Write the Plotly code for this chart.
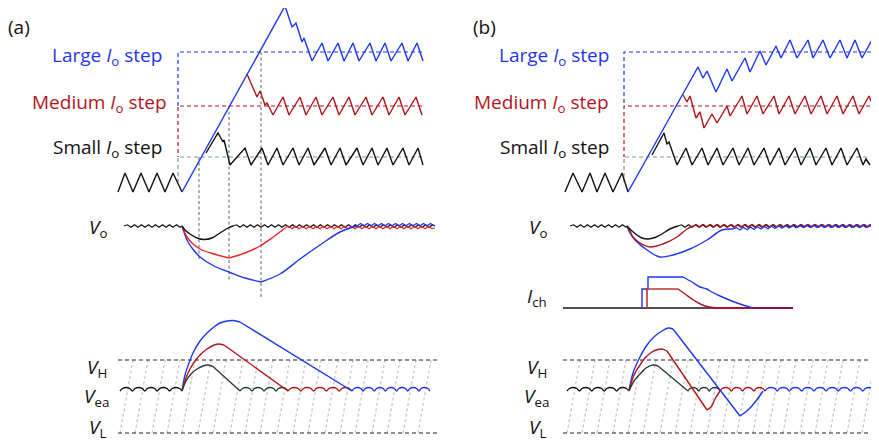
import plotly.graph_objects as go

# ---------------- colours ----------------
BLUE = "#1f35f0"
DRED = "#b3141b"
BRED = "#ee2424"
BLK = "#111111"
SLATE = "#2f3b3b"
GRAYV = "#6f8282"
GRAYS = "#b3c2c2"

# =============== PANEL (a) : inductor current ===============
a_init_x = [118, 125, 133, 141, 149, 157, 165, 173, 182]
a_init_y = [192, 173, 192, 173, 192, 173, 192, 173, 192]

a_blue_x = [182, 285, 292, 296, 302, 304, 312, 322, 328, 338, 344, 353, 359, 370, 376, 385, 391, 402, 408, 417, 423]
a_blue_y = [192, 6, 27, 23, 42, 38, 61, 43, 61, 43, 61, 43, 61, 43, 61, 43, 61, 43, 61, 43, 61]

a_red_x = [247, 257, 260, 265, 267, 273, 283, 289, 300, 306, 316, 322, 333, 339, 349, 355, 366, 372, 383, 389, 399, 405, 416, 422]
a_red_y = [74, 97, 91, 105, 103, 115, 97, 115, 97, 115, 97, 115, 97, 115, 97, 115, 97, 115, 97, 115, 97, 115, 97, 115]

a_blk_x = [206, 218, 223, 224, 230, 245, 251, 262, 268, 277, 283, 293, 299, 308, 314, 325, 331, 340, 346, 357, 363,
           372, 378, 387, 393, 403, 409, 418, 423]
a_blk_y = [153, 133, 142, 140, 165, 148, 165, 148, 165, 148, 165, 148, 165, 148, 165, 148, 165, 148, 165, 148, 165,
           148, 165, 148, 165, 148, 165, 148, 165]

# step-level guides (x, y)
a_guide_blue = ([422, 178, 178], [52, 52, 106])
a_guide_red = ([422, 178, 178], [106, 106, 157])
a_guide_gray = ([422, 178, 178], [157, 157, 182])
a_vlines_x = [199, 229, 261]
a_vlines_top = [157, 106, 52]
a_vlines_bot = [260, 280, 298]

# =============== PANEL (a) : Vo ===============
vo_a_pre_x = [124, 127.5, 131, 134.5, 138, 141.5, 145, 148.5, 152, 155.5, 159, 162.5, 166, 169.5, 173, 176.5, 180, 182]
vo_a_pre_y = [226, 224.8, 227.2, 224.8, 227.2, 224.8, 227.2, 224.8, 227.2, 224.8, 227.2, 224.8, 227.2, 224.8, 227.2, 224.8, 227.2, 226]

vo_a_blk_dip_x = [182, 185, 190, 197, 204, 212, 220, 228, 233]
vo_a_blk_dip_y = [226, 230, 234, 238, 239.5, 238, 233, 228, 226]
vo_a_red_dn_x = [182, 184, 187, 192, 200, 214, 229]
vo_a_red_dn_y = [226, 231, 237, 243, 249, 254, 258]
vo_a_red_up_x = [229, 245, 260, 272, 285]
vo_a_red_up_y = [258, 253, 246, 238, 228]
vo_a_blu_dn_x = [182, 184, 187, 192, 200, 214, 229, 245, 261]
vo_a_blu_dn_y = [226, 232, 240, 248, 257, 266, 272, 278, 282]
vo_a_blu_up_x = [261, 280, 300, 320, 340, 357]
vo_a_blu_up_y = [282, 274, 259, 245, 232, 226]

vo_a_blk_post_x = [233, 236.5, 240, 243.5, 247, 250.5, 254, 257.5, 261, 264.5, 268, 271.5, 275, 278.5, 282, 285.5,
                   289, 292.5, 296, 299.5, 303, 306.5, 310, 313.5, 317, 320.5, 324, 327.5, 331, 334.5, 338, 341.5,
                   345, 348.5, 352, 355.5, 359, 362.5, 366, 369.5, 373, 376.5, 380, 383.5, 387, 390.5, 394, 397.5,
                   401, 404.5, 408, 411.5, 415, 418.5, 422, 425.5, 429, 432.5, 435]
vo_a_blk_post_y = [226, 224.8, 227.2, 224.8, 227.2, 224.8, 227.2, 224.8, 227.2, 224.8, 227.2, 224.8, 227.2, 224.8, 227.2, 224.8,
                   227.2, 224.8, 227.2, 224.8, 227.2, 224.8, 227.2, 224.8, 227.2, 224.8, 227.2, 224.8, 227.2, 224.8, 227.2, 224.8,
                   227.2, 224.8, 227.2, 224.8, 227.2, 224.8, 227.2, 224.8, 227.2, 224.8, 227.2, 224.8, 227.2, 224.8, 227.2, 224.8,
                   227.2, 224.8, 227.2, 224.8, 227.2, 224.8, 227.2, 224.8, 227.2, 224.8, 226]

vo_a_red_post_x = [285, 288.5, 292, 295.5, 299, 302.5, 306, 309.5, 313, 316.5, 320, 323.5, 327, 330.5, 334, 337.5,
                   341, 344.5, 348, 351.5, 355, 358.5, 362, 365.5, 369, 372.5, 376, 379.5, 383, 386.5, 390, 393.5,
                   397, 400.5, 404, 407.5, 411, 414.5, 418, 421.5, 425, 428.5, 432, 435]
vo_a_red_post_y = [228, 226.3, 228.7, 226.3, 228.7, 226.3, 228.7, 226.3, 228.7, 226.3, 228.7, 226.3, 228.7, 226.3, 228.7, 226.3,
                   228.7, 226.3, 228.7, 226.3, 228.7, 226.3, 228.7, 226.3, 228.7, 226.3, 228.7, 226.3, 228.7, 226.3, 228.7, 226.3,
                   228.7, 226.3, 228.7, 226.3, 228.7, 226.3, 228.7, 226.3, 228.7, 226.3, 228.7, 228]

vo_a_blu_post_x = [357, 360.5, 364, 367.5, 371, 374.5, 378, 381.5, 385, 388.5, 392, 395.5, 399, 402.5, 406, 409.5,
                   413, 416.5, 420, 423.5, 427, 430.5, 434]
vo_a_blu_post_y = [226, 223.4, 225.8, 223.4, 225.8, 223.4, 225.8, 223.4, 225.8, 223.4, 225.8, 223.4, 225.8, 223.4, 225.8, 223.4,
                   225.8, 223.4, 225.8, 223.4, 225.8, 223.4, 225.8]

# =============== PANEL (a) : Vea ===============
vea_a_level_x = [118, 437]
vea_a_VH = 360
vea_a_VL = 433
ramp_a_bottom_x = [120, 135, 152, 167, 182, 198, 213, 230, 245, 260, 277, 293, 308, 325, 340, 355, 372, 387, 403, 418]

hump_y5 = [391, 388.5, 387.5, 388.5, 391, 388.5, 387.5, 388.5, 391, 388.5, 387.5, 388.5, 391, 388.5, 387.5, 388.5,
           391, 388.5, 387.5, 388.5, 391]
vea_a_blk_x = [120, 122.5, 126.2, 129.9, 132.4, 134.9, 138.6, 142.3, 144.8, 147.3, 151, 154.7, 157.2, 159.7, 163.4, 167.1,
               169.6, 172.1, 175.8, 179.5, 182]
vea_a_blk_y = hump_y5
vea_a_slate_x = [240, 242.4, 246, 249.6, 252, 254.4, 258, 261.6, 264, 266.4, 270, 273.6, 276, 278.4, 282, 285.6, 288]
vea_a_slate_y = [391, 388.5, 387.5, 388.5, 391, 388.5, 387.5, 388.5, 391, 388.5, 387.5, 388.5, 391, 388.5, 387.5, 388.5, 391]
vea_a_redw_x = [288, 290.6, 294.4, 298.2, 300.8, 303.4, 307.2, 311, 313.6, 316.2, 320, 323.8, 326.4, 329, 332.8, 336.6,
                339.2, 341.8, 345.6, 349.4, 352]
vea_a_redw_y = hump_y5
vea_a_bluw_x = [352, 354.2, 357.6, 360.9, 363.1, 365.3, 368.7, 372, 374.3, 376.5, 379.9, 383.2, 385.4, 387.6, 391, 394.3,
                396.6, 398.8, 402.2, 405.5, 407.7, 409.9, 413.3, 416.6, 418.9, 421.1, 424.5, 427.8, 430]
vea_a_bluw_y = [391, 388.5, 387.5, 388.5, 391, 388.5, 387.5, 388.5, 391, 388.5, 387.5, 388.5, 391, 388.5, 387.5, 388.5,
                391, 388.5, 387.5, 388.5, 391, 388.5, 387.5, 388.5, 391, 388.5, 387.5, 388.5, 391]

vea_a_blu_up_x = [182, 185, 189, 193, 200, 207, 214, 220, 227, 233, 240]
vea_a_blu_up_y = [391, 375, 363, 353, 341, 333, 327, 323, 321, 320.5, 322]
vea_a_blu_dn_x = [240, 352]
vea_a_blu_dn_y = [322, 391]
vea_a_red_up_x = [182, 186, 190, 195, 201, 207, 213, 218, 224]
vea_a_red_up_y = [391, 378, 369, 361, 354, 349, 345.5, 344, 345]
vea_a_red_dn_x = [224, 288]
vea_a_red_dn_y = [345, 391]
vea_a_sl_up_x = [182, 186, 191, 197, 203, 208, 213]
vea_a_sl_up_y = [391, 381, 374, 369, 366, 365, 366.5]
vea_a_sl_dn_x = [213, 240]
vea_a_sl_dn_y = [366.5, 391]

# =============== PANEL (b) : inductor current ===============
b_init_x = [565, 573, 582, 590, 597, 605, 613, 622, 628]
b_init_y = [192, 173, 192, 173, 192, 173, 192, 173, 192]

b_blue_x = [628, 698, 703, 707, 716, 727, 732, 745, 750, 760, 766, 776, 781, 790, 797, 808, 813, 823, 830, 840, 847,
            855, 862, 872, 878]
b_blue_y = [192, 67, 78, 71, 92, 69, 81, 58, 72, 51, 65, 46, 58, 40, 58, 40, 58, 40, 58, 40, 58, 40, 58, 40, 58]

b_red_x = [683, 687, 690, 696, 700, 704, 712, 717, 727, 730, 742, 747, 757, 763, 774, 779, 789, 795, 805, 811, 821,
           827, 837, 843, 853, 859, 869, 877]
b_red_y = [95, 102, 96, 118, 112, 128, 114, 123, 106, 116, 96, 114, 96, 114, 96, 114, 96, 114, 96, 114, 96, 114,
           96, 114, 96, 114, 96, 115]

b_blk_x = [652, 664, 667, 669, 677, 686, 692, 702, 708, 717, 723, 733, 739, 748, 754, 764, 770, 779, 785, 795, 801,
           810, 816, 826, 832, 841, 847, 857, 863, 866, 870]
b_blk_y = [155, 133, 144, 142, 165, 148, 165, 148, 165, 148, 165, 148, 165, 148, 165, 148, 165, 148, 165, 148, 165,
           148, 165, 148, 165, 148, 165, 148, 165, 159, 165]

b_guide_blue = ([878, 624, 624], [52, 52, 106])
b_guide_red = ([877, 624, 624], [106, 106, 157])
b_guide_gray = ([867, 624, 624], [157, 157, 182])

# =============== PANEL (b) : Vo ===============
vo_b_pre_x = [570, 573.5, 577, 580.5, 584, 587.5, 591, 594.5, 598, 601.5, 605, 608.5, 612, 615.5, 619, 622.5, 626, 627]
vo_b_pre_y = [226, 224.8, 227.2, 224.8, 227.2, 224.8, 227.2, 224.8, 227.2, 224.8, 227.2, 224.8, 227.2, 224.8, 227.2, 224.8, 227.2, 226]

vo_b_blk_x = [627, 632, 637, 642, 648, 655, 662, 670, 678]
vo_b_blk_y = [226, 231, 235, 238, 239, 237.5, 234, 229, 226]
vo_b_red_x = [627, 630, 633, 640, 650, 663, 677, 687, 693]
vo_b_red_y = [226, 231, 237, 243, 247, 244, 237, 229, 226]
vo_b_blu_x = [627, 630, 635, 647, 660, 673, 690, 707, 722, 733]
vo_b_blu_y = [226, 233, 240, 250, 257, 255, 249, 240, 230, 229]

vo_b_blk_post_x = [678, 681.5, 685, 688.5, 692, 695.5, 699, 702.5, 706, 709.5, 713, 716.5, 720, 723.5, 727, 730.5,
                   734, 737.5, 741, 744.5, 748, 751.5, 755, 758.5, 762, 765.5, 769, 772.5, 776, 779.5, 783, 786.5,
                   790, 793.5, 797, 800.5, 804, 807.5, 811, 814.5, 818, 821.5, 825, 828.5, 832, 835.5, 839, 842.5,
                   846, 849.5, 853, 856.5, 860, 863.5, 867, 870.5, 872]
vo_b_blk_post_y = [226, 224.8, 227.2, 224.8, 227.2, 224.8, 227.2, 224.8, 227.2, 224.8, 227.2, 224.8, 227.2, 224.8, 227.2, 224.8,
                   227.2, 224.8, 227.2, 224.8, 227.2, 224.8, 227.2, 224.8, 227.2, 224.8, 227.2, 224.8, 227.2, 224.8, 227.2, 224.8,
                   227.2, 224.8, 227.2, 224.8, 227.2, 224.8, 227.2, 224.8, 227.2, 224.8, 227.2, 224.8, 227.2, 224.8, 227.2, 224.8,
                   227.2, 224.8, 227.2, 224.8, 227.2, 224.8, 227.2, 224.8, 226]

vo_b_red_post_x = [693, 696.5, 700, 703.5, 707, 710.5, 714, 717.5, 721, 724.5, 728, 731.5, 735, 738.5, 742, 745.5,
                   749, 752.5, 756, 759.5, 763, 766.5, 770, 773.5, 777, 780.5, 784, 787.5, 791, 794.5, 798, 801.5,
                   805, 808.5, 812, 815.5, 819, 822.5, 826, 829.5, 833, 836.5, 840, 843.5, 847, 850.5, 854, 857.5,
                   861, 864.5, 868, 871.5]
vo_b_red_post_y = [226, 224.6, 227, 224.6, 227, 224.6, 227, 224.6, 227, 224.6, 227, 224.6, 227, 224.6, 227, 224.6,
                   227, 224.6, 227, 224.6, 227, 224.6, 227, 224.6, 227, 224.6, 227, 224.6, 227, 224.6, 227, 224.6,
                   227, 224.6, 227, 224.6, 227, 224.6, 227, 224.6, 227, 224.6, 227, 224.6, 227, 224.6, 227, 224.6,
                   227, 224.6, 227, 224.6]

vo_b_blu_post_x = [733, 736.5, 740, 743.5, 747, 750.5, 754, 757.5, 761, 764.5, 768, 771.5, 775, 778.5, 782, 785.5,
                   789, 792.5, 796, 799.5, 803, 806.5, 810, 813.5, 817, 820.5, 824, 827.5, 831, 834.5, 838, 841.5,
                   845, 848.5, 852, 855.5, 859, 862.5, 866, 869.5, 872]
vo_b_blu_post_y = [229, 227.6, 230, 227.3, 229.7, 227, 229.4, 226.7, 229.1, 226.4, 228.8, 226.1, 228.5, 225.8, 228.2, 225.5,
                   227.9, 225.3, 227.7, 225.2, 227.6, 225.1, 227.5, 225.1, 227.5, 225.1, 227.5, 225.1, 227.5, 225.1, 227.5,
                   225.1, 227.5, 225.1, 227.5, 225.1, 227.5, 225.1, 227.5, 225.1, 227.5]

# =============== PANEL (b) : Ich ===============
ich_base_x = [563, 713, 753, 793]
ich_base_c = ["#505050", "#a3162e", "#80105a"]
ich_blu_step_x = [642, 642, 648, 648, 683]
ich_blu_step_y = [308, 289, 289, 277, 277]
ich_blu_dec_x = [683, 692, 700, 707, 710, 720, 737, 753]
ich_blu_dec_y = [277, 282, 287, 289, 291, 296, 303, 308]
ich_red_step_x = [647, 647, 678]
ich_red_step_y = [308, 289, 289]
ich_red_dec_x = [678, 685, 695, 705, 717]
ich_red_dec_y = [289, 294, 301, 306, 308]

# =============== PANEL (b) : Vea ===============
vea_b_level_x = [563, 877]
ramp_b_bottom_x = [567, 582, 597, 613, 628, 643, 660, 675, 690, 707, 722, 737, 753, 768, 783, 800, 815, 830, 847, 862]

vea_b_blk_x = [567, 569.5, 573.2, 576.9, 579.4, 581.9, 585.6, 589.3, 591.8, 594.3, 598, 601.7, 604.2, 606.7, 610.4, 614.1,
               616.6, 619.1, 622.8, 626.5, 629]
vea_b_blk_y = hump_y5
vea_b_slate_x = [688, 690.1, 693.3, 696.5, 698.7, 700.8, 704, 707.2, 709.3, 711.4, 714.7, 717.9, 720]
vea_b_slate_y = [391, 388.5, 387.5, 388.5, 391, 388.5, 387.5, 388.5, 391, 388.5, 387.5, 388.5, 391]
vea_b_redw_x = [720, 722.3, 725.6, 729, 731.3, 733.5, 736.9, 740.3, 742.5, 744.8, 748.1, 751.5, 753.8, 756, 759.4, 762.8, 765]
vea_b_redw_y = [391, 388.5, 387.5, 388.5, 391, 388.5, 387.5, 388.5, 391, 388.5, 387.5, 388.5, 391, 388.5, 387.5, 388.5, 391]
vea_b_bluw_x = [765, 767.4, 771.1, 774.8, 777.2, 779.6, 783.3, 787, 789.4, 791.8, 795.5, 799.2, 801.7, 804.1, 807.8, 811.5,
                813.9, 816.3, 820, 823.7, 826.1, 828.5, 832.2, 835.9, 838.3, 840.7, 844.4, 848.1, 850.6, 853, 856.7, 860.4,
                862.8, 865.2, 868.9, 872.6, 875]
vea_b_bluw_y = [391, 388.5, 387.5, 388.5, 391, 388.5, 387.5, 388.5, 391, 388.5, 387.5, 388.5, 391, 388.5, 387.5, 388.5,
                391, 388.5, 387.5, 388.5, 391, 388.5, 387.5, 388.5, 391, 388.5, 387.5, 388.5, 391, 388.5, 387.5, 388.5,
                391, 388.5, 387.5, 388.5, 391]

vea_b_blu_up_x = [629, 633, 640, 647, 655, 662, 668, 673]
vea_b_blu_up_y = [391, 373, 357, 345, 336, 331, 328, 329]
vea_b_blu_dn_x = [673, 740]
vea_b_blu_dn_y = [329, 416]
vea_b_blu_rec_x = [740, 748, 756, 763]
vea_b_blu_rec_y = [416, 410, 401, 391]
vea_b_red_up_x = [629, 634, 640, 646, 652, 658, 662, 667]
vea_b_red_up_y = [391, 375, 365, 357, 352, 349.5, 349, 351]
vea_b_red_dn_x = [667, 707]
vea_b_red_dn_y = [351, 410]
vea_b_red_rec_x = [707, 711, 715, 720]
vea_b_red_rec_y = [410, 407, 399, 391]
vea_b_sl_up_x = [629, 634, 640, 646, 653, 658]
vea_b_sl_up_y = [391, 381, 374, 368, 365, 366]
vea_b_sl_dn_x = [658, 688]
vea_b_sl_dn_y = [366, 391]

RAMP_SLANT = 13
PAGE_OFFSET = 8  # default body margin of the page holding the figure

# ======================================================================
fig = go.Figure()


def line(x, y, color, width=1.4, dash=None, shape="linear"):
    fig.add_trace(go.Scatter(x=x, y=y, mode="lines", hoverinfo="skip",
                             line=dict(color=color, width=width, dash=dash, shape=shape)))


def ramps(bottoms, top, bot):
    xs, ys = [], []
    for b in bottoms:
        xs += [b, b + RAMP_SLANT, None]
        ys += [bot, top, None]
    line(xs, ys, GRAYS, 1.1, "3px,2.5px")


# ---- panel a top
line(*a_guide_gray, "#7f9595", 1.2, "4px,3px")
line(*a_guide_red, DRED, 1.2, "4px,3px")
line(*a_guide_blue, BLUE, 1.2, "4px,3px")
for vx, t, b in zip(a_vlines_x, a_vlines_top, a_vlines_bot):
    line([vx, vx], [t, b], GRAYV, 1.2, "3px,2.5px")
line(a_init_x, a_init_y, BLK, 1.4)
line(a_blk_x, a_blk_y, BLK, 1.4)
line(a_red_x, a_red_y, DRED, 1.4)
line(a_blue_x, a_blue_y, BLUE, 1.4)

# ---- panel a Vo
line(vo_a_pre_x, vo_a_pre_y, BLK, 1.2)
line(vo_a_blk_post_x, vo_a_blk_post_y, BLK, 1.2)
line(vo_a_red_post_x, vo_a_red_post_y, BRED, 1.2)
line(vo_a_blu_post_x, vo_a_blu_post_y, BLUE, 1.2)
line(vo_a_blu_dn_x, vo_a_blu_dn_y, BLUE, 1.4, shape="spline")
line(vo_a_blu_up_x, vo_a_blu_up_y, BLUE, 1.4, shape="spline")
line(vo_a_red_dn_x, vo_a_red_dn_y, BRED, 1.4, shape="spline")
line(vo_a_red_up_x, vo_a_red_up_y, BRED, 1.4, shape="spline")
line(vo_a_blk_dip_x, vo_a_blk_dip_y, BLK, 1.4, shape="spline")

# ---- panel a Vea
ramps(ramp_a_bottom_x, vea_a_VH, vea_a_VL)
line(vea_a_level_x, [vea_a_VH] * 2, "#222222", 1.2, "4px,3px")
line(vea_a_level_x, [vea_a_VL] * 2, "#222222", 1.2, "4px,3px")
line(vea_a_blk_x, vea_a_blk_y, BLK, 1.4, shape="spline")
line(vea_a_slate_x, vea_a_slate_y, SLATE, 1.4, shape="spline")
line(vea_a_redw_x, vea_a_redw_y, DRED, 1.4, shape="spline")
line(vea_a_bluw_x, vea_a_bluw_y, BLUE, 1.4, shape="spline")
line(vea_a_blu_up_x, vea_a_blu_up_y, BLUE, 1.4, shape="spline")
line(vea_a_blu_dn_x, vea_a_blu_dn_y, BLUE, 1.4)
line(vea_a_red_up_x, vea_a_red_up_y, DRED, 1.4, shape="spline")
line(vea_a_red_dn_x, vea_a_red_dn_y, DRED, 1.4)
line(vea_a_sl_up_x, vea_a_sl_up_y, SLATE, 1.4, shape="spline")
line(vea_a_sl_dn_x, vea_a_sl_dn_y, SLATE, 1.4)

# ---- panel b top
line(*b_guide_gray, "#7f9595", 1.2, "4px,3px")
line(*b_guide_red, DRED, 1.2, "4px,3px")
line(*b_guide_blue, BLUE, 1.2, "4px,3px")
line(b_init_x, b_init_y, BLK, 1.4)
line(b_blk_x, b_blk_y, BLK, 1.4)
line(b_red_x, b_red_y, DRED, 1.4)
line(b_blue_x, b_blue_y, BLUE, 1.4)

# ---- panel b Vo
line(vo_b_pre_x, vo_b_pre_y, BLK, 1.2)
line(vo_b_blk_post_x, vo_b_blk_post_y, BLK, 1.2)
line(vo_b_red_post_x, vo_b_red_post_y, DRED, 1.2)
line(vo_b_blu_post_x, vo_b_blu_post_y, BLUE, 1.2)
line(vo_b_blu_x, vo_b_blu_y, BLUE, 1.4, shape="spline")
line(vo_b_red_x, vo_b_red_y, DRED, 1.4, shape="spline")
line(vo_b_blk_x, vo_b_blk_y, BLK, 1.4, shape="spline")

# ---- panel b Ich
for i, c in enumerate(ich_base_c):
    line(ich_base_x[i:i + 2], [308, 308], c, 2.2)
line(ich_blu_step_x, ich_blu_step_y, BLUE, 1.4)
line(ich_blu_dec_x, ich_blu_dec_y, BLUE, 1.4, shape="spline")
line(ich_red_step_x, ich_red_step_y, "#c0392b", 1.6)
line(ich_red_dec_x, ich_red_dec_y, DRED, 1.4, shape="spline")

# ---- panel b Vea
ramps(ramp_b_bottom_x, vea_a_VH, vea_a_VL)
line(vea_b_level_x, [vea_a_VH] * 2, "#222222", 1.2, "4px,3px")
line(vea_b_level_x, [vea_a_VL] * 2, "#222222", 1.2, "4px,3px")
line(vea_b_blk_x, vea_b_blk_y, BLK, 1.4, shape="spline")
line(vea_b_slate_x, vea_b_slate_y, SLATE, 1.4, shape="spline")
line(vea_b_redw_x, vea_b_redw_y, DRED, 1.4, shape="spline")
line(vea_b_bluw_x, vea_b_bluw_y, BLUE, 1.4, shape="spline")
line(vea_b_blu_up_x, vea_b_blu_up_y, BLUE, 1.4, shape="spline")
line(vea_b_blu_dn_x, vea_b_blu_dn_y, BLUE, 1.4)
line(vea_b_blu_rec_x, vea_b_blu_rec_y, BLUE, 1.4, shape="spline")
line(vea_b_red_up_x, vea_b_red_up_y, DRED, 1.4, shape="spline")
line(vea_b_red_dn_x, vea_b_red_dn_y, DRED, 1.4)
line(vea_b_red_rec_x, vea_b_red_rec_y, DRED, 1.4, shape="spline")
line(vea_b_sl_up_x, vea_b_sl_up_y, SLATE, 1.4, shape="spline")
line(vea_b_sl_dn_x, vea_b_sl_dn_y, SLATE, 1.4)

# ---- labels
FONT = "Open Sans"
labels = [
    ("(a)", 10, 27, BLK, "left", -4),
    ("(b)", 474, 27, BLK, "left", -3),
    ("Large <i>I</i><sub>o</sub> step", 164, 56, BLUE, "right", 0),
    ("Medium <i>I</i><sub>o</sub> step", 169, 103, DRED, "right", 0),
    ("Small <i>I</i><sub>o</sub> step", 164, 148, BLK, "right", 0),
    ("Large <i>I</i><sub>o</sub> step", 611, 56, BLUE, "right", 0),
    ("Medium <i>I</i><sub>o</sub> step", 611, 103, DRED, "right", 0),
    ("Small <i>I</i><sub>o</sub> step", 611, 148, BLK, "right", 0),
    ("<i>V</i><sub>o</sub>", 109, 228, BLK, "right", 0),
    ("<i>V</i><sub>o</sub>", 549, 228, BLK, "right", 0),
    ("<i>I</i><sub>ch</sub>", 549, 297, BLK, "right", 0),
    ("<i>V</i><sub>H</sub>", 109, 368, BLK, "right", 0),
    ("<i>V</i><sub>ea</sub>", 111, 397, BLK, "right", 0),
    ("<i>V</i><sub>L</sub>", 108, 428, BLK, "right", 0),
    ("<i>V</i><sub>H</sub>", 549, 368, BLK, "right", 0),
    ("<i>V</i><sub>ea</sub>", 551, 397, BLK, "right", 0),
    ("<i>V</i><sub>L</sub>", 548, 428, BLK, "right", 0),
]
for t, x, y, c, anc, xs in labels:
    fig.add_annotation(x=x, y=y, text=t, showarrow=False, xanchor=anc, yanchor="middle", xshift=xs,
                       font=dict(family=FONT, size=19, color=c))

W, H = 879, 441
fig.update_layout(
    width=W, height=H, margin=dict(l=0, r=0, t=0, b=0),
    paper_bgcolor="white", plot_bgcolor="white", showlegend=False,
    xaxis=dict(range=[PAGE_OFFSET, W + PAGE_OFFSET], visible=False, fixedrange=True),
    yaxis=dict(range=[H + PAGE_OFFSET, PAGE_OFFSET], visible=False, fixedrange=True),
)
fig.write_html("out.html")
